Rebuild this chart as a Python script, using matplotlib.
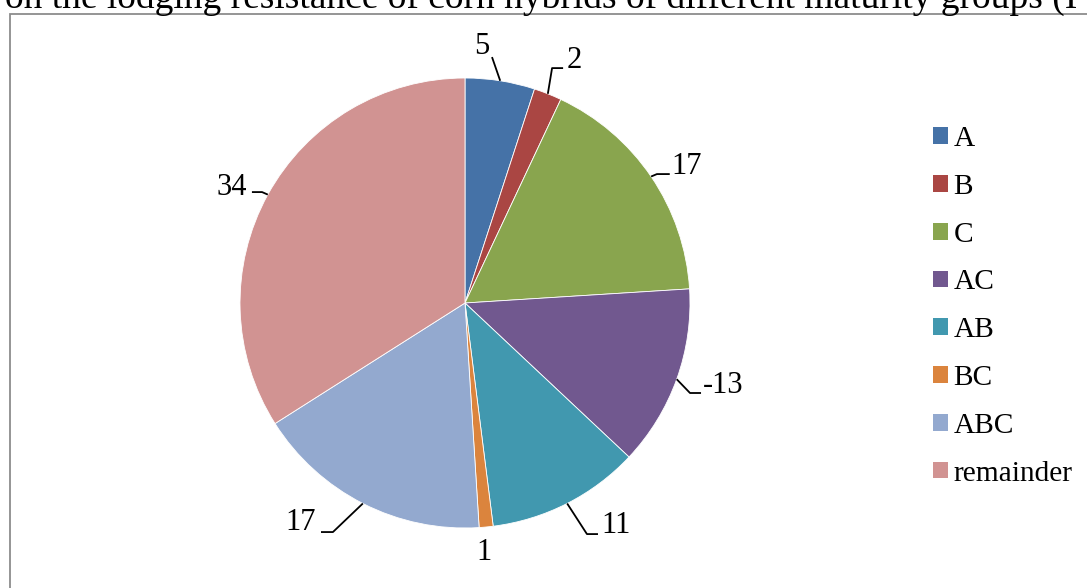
import numpy as np
import matplotlib
matplotlib.use("Agg")
import matplotlib.pyplot as plt
from matplotlib.patches import Rectangle, Patch

categories = ["A", "B", "C", "AC", "AB", "BC", "ABC", "remainder"]
values = [5, 2, 17, 13, 11, 1, 17, 34]
value_labels = ["5", "2", "17", "-13", "11", "1", "17", "34"]
colors = ["#4572A7", "#AA4643", "#89A54E", "#71588F", "#4198AF", "#DB843D", "#93A9CF", "#D19392"]
title = "on the lodging resistance of corn hybrids of different maturity groups (I"

W, H = 1087, 588
fig = plt.figure(figsize=(W / 100, H / 100), dpi=100)
plt.rcParams['font.family'] = ['Liberation Serif', 'DejaVu Serif']

# border box (partly outside the image)
fig.patches.append(Rectangle((9.5 / W, -0.2), 2.0, (H - 13.5) / H + 0.2,
                             transform=fig.transFigure, fill=False,
                             edgecolor="#8c8c8c", linewidth=1.3))
fig.text(5 / W, (H - 8) / H, title, fontsize=27, ha="left", va="baseline")

cx, cy, r = 465, 303, 225
ax = fig.add_axes([(cx - r) / W, (H - cy - r) / H, 2 * r / W, 2 * r / H])
wedges, _ = ax.pie(values, colors=colors, startangle=90, counterclock=False,
                   radius=1.0, wedgeprops=dict(edgecolor="white", linewidth=0.6))
ax.set_xlim(-1, 1)
ax.set_ylim(-1, 1)
ax.axis("off")

# label layout: text position, alignment, leader elbow/end points (radius units)
layout = [
    dict(t=(0.076, 1.14), ha="center", pts=[(0.12, 1.093)]),
    dict(t=(0.45, 1.08), ha="left", pts=[(0.387, 1.044), (0.436, 1.044)]),
    dict(t=(0.915, 0.607), ha="left", pts=[(0.853, 0.573), (0.91, 0.573)]),
    dict(t=(1.058, -0.368), ha="left", pts=[(1.0, -0.4), (1.049, -0.4)]),
    dict(t=(0.607, -0.99), ha="left", pts=[(0.542, -1.027), (0.591, -1.027)]),
    dict(t=(0.084, -1.11), ha="center", pts=[]),
    dict(t=(-0.662, -0.975), ha="right", pts=[(-0.587, -1.018), (-0.64, -1.018)]),
    dict(t=(-0.967, 0.513), ha="right", pts=[(-0.902, 0.493), (-0.947, 0.493)]),
]
for w, lab, lay in zip(wedges, value_labels, layout):
    ang = np.deg2rad((w.theta1 + w.theta2) / 2)
    ex, ey = np.cos(ang), np.sin(ang)
    if lay["pts"]:
        xs = [ex] + [p[0] for p in lay["pts"]]
        ys = [ey] + [p[1] for p in lay["pts"]]
        ax.plot(xs, ys, color="black", lw=1.3, clip_on=False, solid_capstyle="butt")
    ax.text(lay["t"][0], lay["t"][1], lab, ha=lay["ha"], va="center",
            fontsize=22, clip_on=False)

handles = [Patch(facecolor=c, edgecolor="none") for c in colors]
fig.legend(handles, categories, loc="upper left",
           bbox_to_anchor=(933 / W, (H - 126) / H), frameon=False,
           fontsize=21.2, handlelength=0.5, handleheight=0.5,
           handletextpad=0.2, labelspacing=0.74, borderaxespad=0,
           borderpad=0)

fig.savefig("out.png", dpi=100)
